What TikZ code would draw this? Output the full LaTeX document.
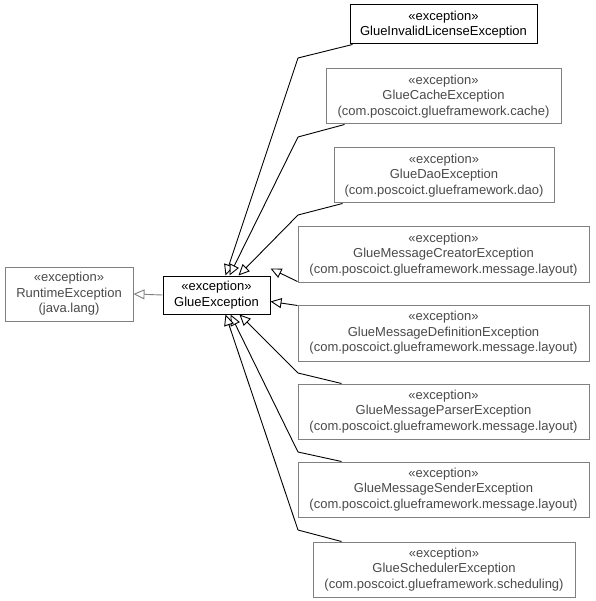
\documentclass[tikz,border=0pt]{standalone}
\usepackage{fontspec}
\setmainfont{Liberation Sans}
\usetikzlibrary{arrows.meta,calc}
\definecolor{gborder}{HTML}{808080}
\definecolor{gtext}{HTML}{4A4A4A}
\begin{document}
\begin{tikzpicture}[x=1pt,y=-1pt,
  cls/.style={draw=black,line width=1pt,fill=white,align=center,inner sep=0pt,
    font=\fontsize{13}{15.5}\selectfont,text=black},
  gcls/.style={cls,draw=gborder,text=gtext},
  gen/.style={draw=black,line width=0.9pt,-{Triangle[open,length=11pt,width=10pt,fill=white]}},
  ggen/.style={draw=gborder,line width=0.9pt,-{Triangle[open,length=11pt,width=10pt,fill=white]}}]
\useasboundingbox (0,0) rectangle (595,601);
\node[gcls,minimum width=128pt,minimum height=54pt] (rt) at (69,294) {«exception»\\RuntimeException\\(java.lang)};
\node[cls,minimum width=107pt,minimum height=38pt] (ge) at (216.5,295) {«exception»\\GlueException};
\node[cls,minimum width=187pt,minimum height=39pt] (inv) at (443.5,24.5) {«exception»\\GlueInvalidLicenseException};
\node[gcls,minimum width=235pt,minimum height=55pt] (cache) at (443.5,96.5) {«exception»\\GlueCacheException\\(com.poscoict.glueframework.cache)};
\node[gcls,minimum width=220pt,minimum height=55pt] (dao) at (444,175.5) {«exception»\\GlueDaoException\\(com.poscoict.glueframework.dao)};
\node[gcls,minimum width=291pt,minimum height=55pt] (creator) at (443.5,254.5) {«exception»\\GlueMessageCreatorException\\(com.poscoict.glueframework.message.layout)};
\node[gcls,minimum width=291pt,minimum height=56pt] (def) at (443.5,333) {«exception»\\GlueMessageDefinitionException\\(com.poscoict.glueframework.message.layout)};
\node[gcls,minimum width=291pt,minimum height=55pt] (parser) at (443.5,411.5) {«exception»\\GlueMessageParserException\\(com.poscoict.glueframework.message.layout)};
\node[gcls,minimum width=291pt,minimum height=55pt] (sender) at (443.5,489.5) {«exception»\\GlueMessageSenderException\\(com.poscoict.glueframework.message.layout)};
\node[gcls,minimum width=262pt,minimum height=55pt] (sched) at (444,569.5) {«exception»\\GlueSchedulerException\\(com.poscoict.glueframework.scheduling)};
\coordinate (b1) at (298,58);
\coordinate (b2) at (298,137);
\coordinate (b3) at (298,215);
\coordinate (b6) at (298,373);
\coordinate (b7) at (298,452);
\coordinate (b8) at (298,530);
\draw[ggen] (ge.west) -- (rt.east);
\draw[gen] ([xshift=3pt]inv.south west) -- (b1) -- ([xshift=63pt]ge.north west);
\draw[gen] ([xshift=19pt]cache.south west) -- (b2) -- ([xshift=67pt]ge.north west);
\draw[gen] ([xshift=9pt]dao.south west) -- (b3) -- ([xshift=76pt]ge.north west);
\draw[gen] ([yshift=1pt]creator.south west) -- ([yshift=7pt]ge.north east);
\draw[gen] ([yshift=-1pt]def.north west) -- ([yshift=-26pt]ge.north east);
\draw[gen] ([xshift=44pt]parser.north west) -- (b6) -- ([xshift=77pt]ge.south west);
\draw[gen] ([xshift=44pt]sender.north west) -- (b7) -- ([xshift=68pt]ge.south west);
\draw[gen] ([xshift=29pt]sched.north west) -- (b8) -- ([xshift=63pt]ge.south west);
\end{tikzpicture}
\end{document}
